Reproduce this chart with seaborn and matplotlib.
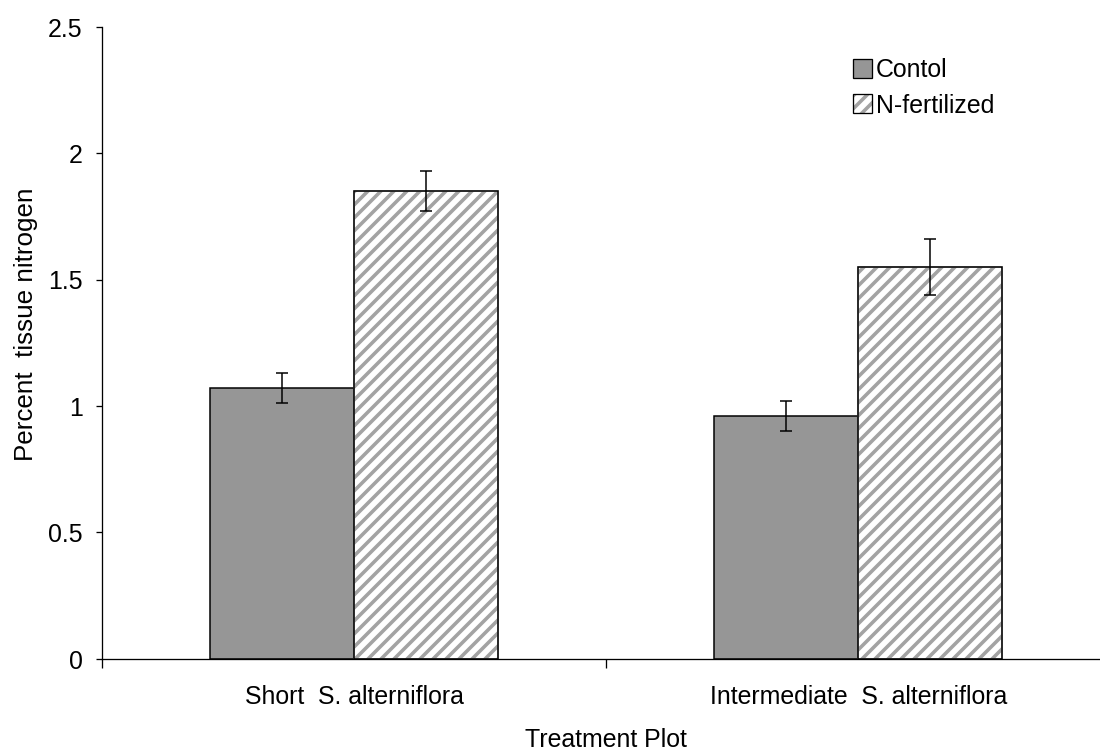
import matplotlib
matplotlib.use("Agg")
import matplotlib.pyplot as plt
from matplotlib.patches import Patch, Rectangle
from matplotlib.legend_handler import HandlerTuple
import seaborn as sns
import pandas as pd

# Percent tissue nitrogen by plot type and treatment
plots = ["Short  S. alterniflora", "Intermediate  S. alterniflora"]
treatments = ["Contol", "N-fertilized"]
control_mean = [1.07, 0.96]
control_err = [0.06, 0.06]
fert_mean = [1.85, 1.55]
fert_err = [0.08, 0.11]

df = pd.DataFrame({
    "plot": plots * 2,
    "treatment": [treatments[0]] * 2 + [treatments[1]] * 2,
    "value": control_mean + fert_mean,
})

sns.set_theme(style="white")
plt.rcParams["font.family"] = ["Liberation Sans", "DejaVu Sans"]
plt.rcParams["hatch.linewidth"] = 3.3
plt.rcParams["text.color"] = "black"
plt.rcParams["axes.labelcolor"] = "black"
plt.rcParams["xtick.color"] = "black"
plt.rcParams["ytick.color"] = "black"

STRIPE = "#a3a3a3"
HATCH = "//"
DPI = 78
FS = 23
fig = plt.figure(figsize=(1100.4 / DPI, 750.4 / DPI), dpi=DPI)
ax = fig.add_axes([102 / 1100, 91 / 750, 1008 / 1100, 632 / 750])

sns.barplot(
    data=df, x="plot", y="value", hue="treatment",
    order=plots, hue_order=treatments,
    palette={treatments[0]: "#969696", treatments[1]: "white"},
    width=0.5714, errorbar=None, edgecolor="black", linewidth=1.4,
    saturation=1, legend=False, ax=ax,
)

# gray diagonal stripes on fertilized bars (hatch follows edge colour),
# with a black outline drawn on top; error bars at each bar centre
for k, (cont, errs) in enumerate(zip(ax.containers, [control_err, fert_err])):
    xs, ys = [], []
    for bar in cont:
        xs.append(bar.get_x() + bar.get_width() / 2)
        ys.append(bar.get_height())
        if k == 1:
            bar.set_hatch(HATCH)
            bar.set_edgecolor(STRIPE)
            ax.add_patch(Rectangle((bar.get_x(), bar.get_y()), bar.get_width(),
                                   bar.get_height(), fill=False,
                                   edgecolor="black", linewidth=1.4, zorder=4))
    ax.errorbar(xs, ys, yerr=errs, fmt="none", ecolor="black",
                elinewidth=1.4, capsize=5.5, capthick=1.4, zorder=5)

ax.set_xlim(-0.5, 1.5)
ax.set_ylim(0, 2.5)
ax.set_yticks([0, 0.5, 1, 1.5, 2, 2.5])
ax.set_yticklabels(["0", "0.5", "1", "1.5", "2", "2.5"])
ax.set_xticks([0, 1])
ax.set_xticklabels(plots)
ax.set_xticks([-0.5, 0.5, 1.5], minor=True)

ax.tick_params(axis="y", which="major", direction="out", length=6, width=1.2,
               labelsize=FS, pad=12, left=True)
ax.tick_params(axis="x", which="major", length=0, labelsize=FS, pad=24)
ax.tick_params(axis="x", which="minor", direction="out", length=8, width=1.2,
               bottom=True)

for side in ["top", "right"]:
    ax.spines[side].set_visible(False)
for side in ["left", "bottom"]:
    ax.spines[side].set_color("black")
    ax.spines[side].set_linewidth(1.2)

ax.set_xlabel("Treatment Plot", fontsize=FS, labelpad=17)
ax.set_ylabel("Percent  tissue nitrogen", fontsize=24)
ax.yaxis.set_label_coords(-0.0635, 0.53)

handles = [
    Patch(facecolor="#969696", edgecolor="black", linewidth=1.2),
    (Patch(facecolor="white", edgecolor=STRIPE, hatch=HATCH, linewidth=0),
     Patch(fill=False, edgecolor="black", linewidth=1.2)),
]
ax.legend(handles=handles, labels=treatments,
          handler_map={tuple: HandlerTuple(ndivide=1, pad=0)},
          loc="upper left", bbox_to_anchor=(0.735, 0.966),
          frameon=False, fontsize=FS, handlelength=0.75, handleheight=0.75,
          handletextpad=0.15, labelspacing=0.45, borderaxespad=0.0)

fig.savefig("out.png", dpi=DPI, facecolor="white")
